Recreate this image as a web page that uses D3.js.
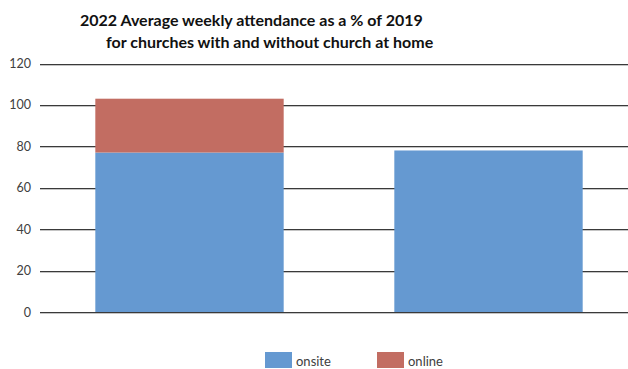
<!DOCTYPE html>
<html>
<head>
<meta charset="utf-8">
<script src="https://cdn.jsdelivr.net/npm/d3@7"></script>
<style>
  html, body { margin: 0; padding: 0; background: #fff; }
  svg { display: block; font-family: Lato, "Open Sans", sans-serif; }
</style>
</head>
<body>
<svg id="chart" width="628" height="369"></svg>
<script>
// Chart data
const categories = ["with church at home", "without church at home"];
const onsite = [77, 78];
const online = [26, 0];
const seriesNames = ["onsite", "online"];
const seriesColors = ["#6599D1", "#C26D62"];
const yTicks = [0, 20, 40, 60, 80, 100, 120];
const titleLines = [
  "2022 Average weekly attendance as a % of 2019",
  "for churches with and without church at home"
];

const svg = d3.select("#chart");

const x = d3.scaleBand()
  .domain(categories)
  .range([40, 638])
  .paddingInner(0.37)
  .paddingOuter(0.185);

const y = d3.scaleLinear()
  .domain([0, 120])
  .range([312, 63.5]);

// Gridlines with a soft light edge underneath
const grid = svg.append("g");
grid.selectAll("line.shade")
  .data(yTicks)
  .join("line")
  .attr("class", "shade")
  .attr("x1", 40).attr("x2", 628)
  .attr("y1", d => Math.round(y(d)) + 1.5)
  .attr("y2", d => Math.round(y(d)) + 1.5)
  .attr("stroke", "#c4c4c4")
  .attr("stroke-width", 1);
grid.selectAll("line.main")
  .data(yTicks)
  .join("line")
  .attr("class", "main")
  .attr("x1", 40).attr("x2", 628)
  .attr("y1", d => Math.round(y(d)) + 0.5)
  .attr("y2", d => Math.round(y(d)) + 0.5)
  .attr("stroke", "#3a3a3a")
  .attr("stroke-width", 1);

// Y axis labels
const yAxis = d3.axisLeft(y).tickValues(yTicks).tickSize(0).tickPadding(0);
const yg = svg.append("g").attr("transform", "translate(31,0)").call(yAxis);
yg.select(".domain").remove();
yg.selectAll("text")
  .attr("font-family", "Lato, 'Open Sans', sans-serif")
  .attr("font-size", 12.5)
  .attr("fill", "#404040");

// Stacked bars
const table = categories.map((c, i) => ({ category: c, onsite: onsite[i], online: online[i] }));
const stacked = d3.stack().keys(seriesNames)(table);

svg.append("g")
  .selectAll("g")
  .data(stacked)
  .join("g")
  .attr("fill", (d, i) => seriesColors[i])
  .selectAll("rect")
  .data(d => d.filter(s => s[1] - s[0] > 0))
  .join("rect")
  .attr("x", d => x(d.data.category))
  .attr("width", x.bandwidth())
  .attr("y", d => y(d[1]))
  .attr("height", d => y(d[0]) - y(d[1]));

// Title
const titleX = [80, 106];
const titleY = [26, 48];
svg.append("g")
  .selectAll("text")
  .data(titleLines)
  .join("text")
  .attr("x", (d, i) => titleX[i])
  .attr("y", (d, i) => titleY[i])
  .attr("font-size", 16)
  .attr("font-weight", "bold")
  .attr("fill", "#111")
  .text(d => d);

// Legend
const legendX = [265, 377];
const legend = svg.append("g")
  .selectAll("g")
  .data(seriesNames)
  .join("g")
  .attr("transform", (d, i) => `translate(${legendX[i]},352)`);
legend.append("rect")
  .attr("width", 27).attr("height", 16)
  .attr("fill", (d, i) => seriesColors[i]);
legend.append("text")
  .attr("x", 31).attr("y", 14)
  .attr("font-size", 13)
  .attr("fill", "#404040")
  .text(d => d);
</script>
</body>
</html>
